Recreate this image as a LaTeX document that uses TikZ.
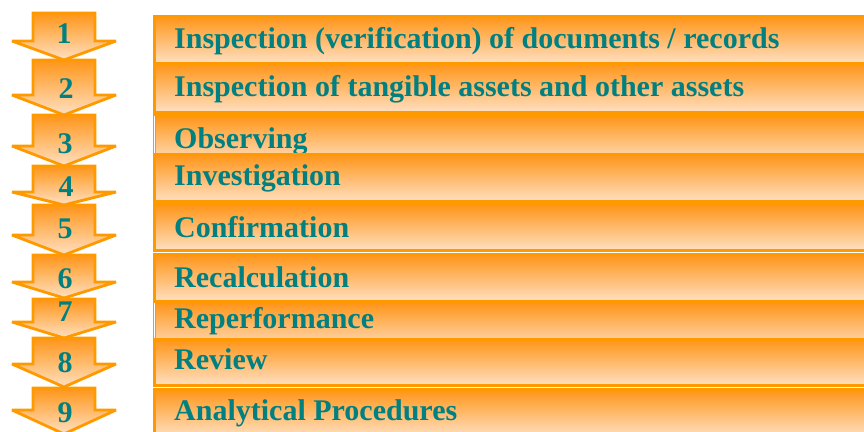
\documentclass[tikz,border=0pt]{standalone}
\usepackage{fontspec}
\setmainfont{Liberation Serif}
\definecolor{edge}{HTML}{FF9900}
\definecolor{deep}{HTML}{FF9518}
\definecolor{pale}{HTML}{FFE0C2}
\definecolor{labelink}{HTML}{008080}
\tikzset{
  barbox/.style={draw=edge, line width=3pt, top color=deep, bottom color=pale,
    rectangle, anchor=north west, inner sep=0pt, minimum width=760pt},
  downarrow/.style={draw=edge, line width=2.8pt, line join=miter, miter limit=2.5,
    top color=deep, bottom color=pale},
  steptext/.style={text=labelink, font=\fontsize{30}{30}\selectfont\bfseries, anchor=base west, inner sep=0pt},
  numtext/.style={text=labelink, font=\fontsize{30}{30}\selectfont\bfseries, anchor=base, inner sep=0pt}
}
\begin{document}
\begin{tikzpicture}[x=1pt,y=-1pt]
\useasboundingbox (0,0) rectangle (864,431);
\clip (0,0) rectangle (864,431);

% down arrows, lower ones first so each tip lies over the next shaft
% shaft top / wing line / tip
\foreach \n/\t/\w/\p in {9/388/410/434, 8/338/364/387, 7/299/322/338, 6/255/282/298,
                        5/205/235/255, 4/166/192/205, 3/115/146/166, 2/60/95/115, 1/13/41/60}{
  \draw[downarrow] (33,\t) -- (95,\t) -- (95,\w) -- (116,\w) -- (64,\p) -- (12,\w) -- (33,\w) -- cycle;
}

% numbers on the arrows
\node[numtext] (n1) at (64,43) {1};
\node[numtext] (n2) at (66,98) {2};
\node[numtext] (n3) at (65,153) {3};
\node[numtext] (n4) at (66,196) {4};
\node[numtext] (n5) at (65,238) {5};
\node[numtext] (n6) at (65,288) {6};
\node[numtext] (n7) at (65,321) {7};
\node[numtext] (n8) at (65,372) {8};
\node[numtext] (n9) at (65,422) {9};

% bars, each drawn over the one above it
\node[barbox, minimum height=47pt] (b1) at (153,15) {};
\node[steptext] (t1) at (174,48) {Inspection (verification) of documents / records};
\node[barbox, minimum height=49pt] (b2) at (153,62) {};
\node[steptext] (t2) at (174,96) {Inspection of tangible assets and other assets};
\node[barbox, minimum height=47pt] (b3) at (153,114) {};
\draw[white, line width=0.8pt] (b3.north west) ++(1.5,2) -- ++(0,45);
\node[steptext] (t3) at (174,148) {Observing};
\node[barbox, minimum height=47pt] (b4) at (153,153) {};
\node[steptext] (t4) at (174,185) {Investigation};
\node[barbox, minimum height=46pt] (b5) at (153,203) {};
\node[steptext] (t5) at (174,237) {Confirmation};
\node[barbox, minimum height=47pt] (b6) at (153,253) {};
\node[steptext] (t6) at (174,287) {Recalculation};
\node[barbox, minimum height=47pt] (b7) at (153,301) {};
\draw[white, line width=0.8pt] (b7.north west) ++(1.5,2) -- ++(0,45);
\node[steptext] (t7) at (174,328) {Reperformance};
\node[barbox, minimum height=46pt] (b8) at (153,338) {};
\node[steptext] (t8) at (174,369) {Review};
\node[barbox, minimum height=47pt] (b9) at (153,388) {};
\node[steptext] (t9) at (174,420) {Analytical Procedures};
\end{tikzpicture}
\end{document}
